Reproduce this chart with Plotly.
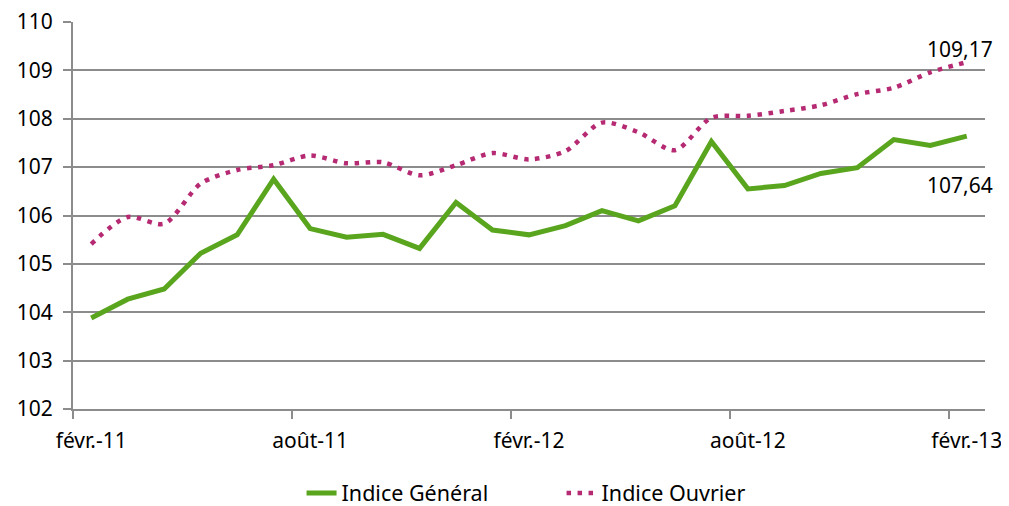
import plotly.graph_objects as go

months = ["févr.-11", "mars-11", "avr.-11", "mai-11", "juin-11", "juil.-11",
          "août-11", "sept.-11", "oct.-11", "nov.-11", "déc.-11", "janv.-12",
          "févr.-12", "mars-12", "avr.-12", "mai-12", "juin-12", "juil.-12",
          "août-12", "sept.-12", "oct.-12", "nov.-12", "déc.-12", "janv.-13",
          "févr.-13"]

indice_general = [103.88, 104.27, 104.48, 105.22, 105.60, 106.75, 105.73, 105.55,
                  105.61, 105.32, 106.27, 105.70, 105.60, 105.79, 106.10, 105.89,
                  106.20, 107.53, 106.55, 106.62, 106.87, 106.99, 107.57, 107.45,
                  107.64]

indice_ouvrier = [105.41, 105.97, 105.83, 106.66, 106.94, 107.04, 107.24, 107.08,
                  107.10, 106.83, 107.04, 107.29, 107.16, 107.33, 107.92, 107.72,
                  107.35, 108.02, 108.06, 108.16, 108.28, 108.51, 108.64, 108.96,
                  109.17]

tick_idx = [0, 6, 12, 18, 24]
tick_labels = [months[i] for i in tick_idx]
boundary_ticks = [i - 0.5 for i in tick_idx]

x = list(range(len(months)))

GREEN = "#5AA51E"
PURPLE = "#B52A72"
GRID = "#8C8C8C"
FONT = "Noto Sans"

fig = go.Figure()
fig.add_trace(go.Scatter(
    x=x, y=indice_general, name="Indice Général", mode="lines",
    line=dict(color=GREEN, width=5),
    customdata=months, hovertemplate="%{customdata}: %{y}<extra></extra>"))
fig.add_trace(go.Scatter(
    x=x, y=indice_ouvrier, name="Indice Ouvrier", mode="lines",
    line=dict(color=PURPLE, width=4.5, dash="4.5px,6.5px", shape="spline", smoothing=0.8),
    customdata=months, hovertemplate="%{customdata}: %{y}<extra></extra>"))

fig.add_annotation(x=x[-1], y=indice_ouvrier[-1], text=f"{indice_ouvrier[-1]:.2f}".replace(".", ","),
                   showarrow=False, xshift=-7, yshift=13, yanchor="middle",
                   font=dict(family=FONT, size=21, color="#000"))
fig.add_annotation(x=x[-1], y=indice_general[-1], text=f"{indice_general[-1]:.2f}".replace(".", ","),
                   showarrow=False, xshift=-7, yshift=-49, yanchor="middle",
                   font=dict(family=FONT, size=21, color="#000"))

# page body has an 8px margin, so the figure is sized to fit the 1009x506 window
fig.update_layout(
    width=1001, height=498,
    margin=dict(l=65, r=23.5, t=14, b=97, autoexpand=False),
    paper_bgcolor="white", plot_bgcolor="white",
    font=dict(family=FONT, size=21, color="#000"),
    showlegend=True,
    legend=dict(orientation="h", xref="container", yref="container",
                x=0.553, xanchor="center", y=0.026, yanchor="middle",
                font=dict(family=FONT, size=21.5, color="#000"),
                itemwidth=30, tracegroupgap=0, entrywidth=215, entrywidthmode="pixels"),
    xaxis=dict(
        range=[-0.5, 24.5], tickmode="array", tickvals=tick_idx, ticktext=tick_labels,
        ticks="", showgrid=False, zeroline=False, automargin=False,
        showline=True, linecolor=GRID, linewidth=2,
        ticklabelstandoff=12, ticklabeloverflow="allow",
        minor=dict(tickmode="array", tickvals=boundary_ticks, ticks="outside",
                   ticklen=8, tickwidth=2, tickcolor=GRID, showgrid=False),
        tickfont=dict(family=FONT, size=21, color="#000")),
    yaxis=dict(
        range=[102, 110], tickmode="linear", tick0=102, dtick=1,
        ticks="outside", ticklen=8, tickwidth=2, tickcolor=GRID,
        showgrid=True, gridcolor=GRID, gridwidth=2, zeroline=False, automargin=False,
        showline=True, linecolor=GRID, linewidth=2,
        ticklabelstandoff=6, ticklabeloverflow="allow",
        tickfont=dict(family=FONT, size=21, color="#000")),
)

fig.write_html("out.html")
